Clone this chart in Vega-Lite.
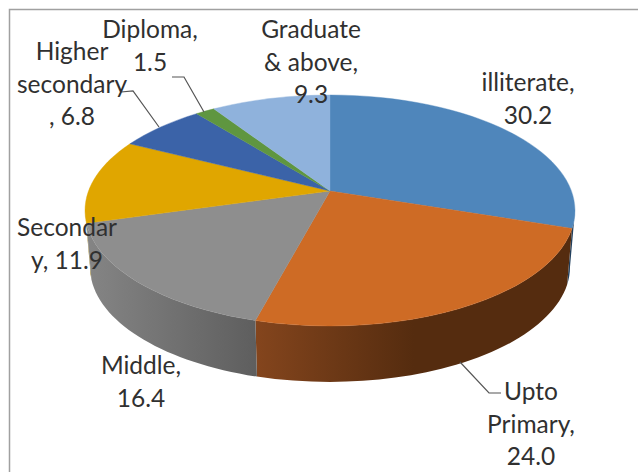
{
"$schema":"https://vega.github.io/schema/vega-lite/v6.json",
"width":638,"height":472,"padding":0,
"autosize":{"type":"fit","contains":"padding"},
"background":"white",
"config":{"view":{"stroke":null}},
"data":{"values":[
{"category":"illiterate","value":30.2,"label":"illiterate,\n30.2"},
{"category":"Upto Primary","value":24.0,"label":"Upto\nPrimary,\n24.0"},
{"category":"Middle","value":16.4,"label":"Middle,\n16.4"},
{"category":"Secondary","value":11.9,"label":"Secondar\ny, 11.9"},
{"category":"Higher secondary","value":6.8,"label":"Higher\nsecondary\n, 6.8"},
{"category":"Diploma","value":1.5,"label":"Diploma,\n1.5"},
{"category":"Graduate & above","value":9.3,"label":"Graduate\n& above,\n9.3"}
]},
"transform":[
{"joinaggregate":[{"op":"sum","field":"value","as":"total"}]},
{"window":[{"op":"sum","field":"value","as":"cum"}],"frame":[null,0],"ignorePeers":true},
{"calculate":"2*atan2(0.84*sin(PI*(datum.cum-datum.value)/datum.total),cos(PI*(datum.cum-datum.value)/datum.total))","as":"p0"},
{"calculate":"2*atan2(0.84*sin(PI*datum.cum/datum.total),cos(PI*datum.cum/datum.total))","as":"p1"},
{"calculate":"'M330,191L'+(330+245*sin(datum.p0))+','+(210.5-115.5*cos(datum.p0))+'A245,115.5,0,0,1,'+(330+245*sin(datum.p1))+','+(210.5-115.5*cos(datum.p1))+'Z'","as":"topPath"},
{"calculate":"max(datum.p0,PI/2)","as":"a"},
{"calculate":"min(datum.p1,3*PI/2)","as":"b"},
{"calculate":"'M'+(330+245*sin(datum.a))+','+(210.5-115.5*cos(datum.a))+'A245,115.5,0,0,1,'+(330+245*sin(datum.b))+','+(210.5-115.5*cos(datum.b))+'L'+(330+240*sin(datum.b))+','+(267-115*cos(datum.b))+'A240,115,0,0,0,'+(330+240*sin(datum.a))+','+(267-115*cos(datum.a))+'Z'","as":"wallPath"}
],
"layer":[
{"transform":[{"filter":"datum.category==='illiterate'"}],
 "mark":{"type":"point","filled":true,"opacity":1,"size":4,"fill":"#22405e","stroke":null},
 "encoding":{"x":{"value":0},"y":{"value":0},"shape":{"field":"wallPath","type":"nominal","scale":null,"legend":null}}},
{"transform":[{"filter":"datum.category==='Secondary'"}],
 "mark":{"type":"point","filled":true,"opacity":1,"size":4,"fill":"#8a6a00","stroke":null},
 "encoding":{"x":{"value":0},"y":{"value":0},"shape":{"field":"wallPath","type":"nominal","scale":null,"legend":null}}},
{"transform":[{"filter":"datum.category==='Upto Primary'"}],
 "mark":{"type":"point","filled":true,"opacity":1,"size":4,"stroke":null,
  "fill":{"gradient":"linear","x1":0,"y1":0,"x2":1,"y2":0,"stops":[{"offset":0,"color":"#84451d"},{"offset":0.5,"color":"#552c0f"},{"offset":1,"color":"#552c0f"}]}},
 "encoding":{"x":{"value":0},"y":{"value":0},"shape":{"field":"wallPath","type":"nominal","scale":null,"legend":null}}},
{"transform":[{"filter":"datum.category==='Middle'"}],
 "mark":{"type":"point","filled":true,"opacity":1,"size":4,"stroke":null,
  "fill":{"gradient":"linear","x1":0,"y1":0,"x2":1,"y2":0,"stops":[{"offset":0,"color":"#858585"},{"offset":1,"color":"#5e5e5e"}]}},
 "encoding":{"x":{"value":0},"y":{"value":0},"shape":{"field":"wallPath","type":"nominal","scale":null,"legend":null}}},
{"mark":{"type":"point","filled":true,"opacity":1,"size":4,"strokeWidth":0.4},
 "encoding":{"x":{"value":0},"y":{"value":0},
  "shape":{"field":"topPath","type":"nominal","scale":null,"legend":null},
  "fill":{"field":"category","type":"nominal","legend":null,"scale":{"domain":["illiterate","Upto Primary","Middle","Secondary","Higher secondary","Diploma","Graduate & above"],"range":["#4f86bb","#ce6b25","#8e8e8e","#e0a600","#3b63a8","#5f9640","#8fb2dc"]}},
  "stroke":{"field":"category","type":"nominal","legend":null,"scale":{"domain":["illiterate","Upto Primary","Middle","Secondary","Higher secondary","Diploma","Graduate & above"],"range":["#4f86bb","#ce6b25","#8e8e8e","#e0a600","#3b63a8","#5f9640","#8fb2dc"]}}
 }},
{"transform":[{"filter":"datum.category==='Higher secondary'"}],
 "mark":{"type":"point","filled":false,"opacity":1,"size":4,"stroke":"#555555","strokeWidth":1.2,"shape":"M121,92L133,91L159,127"},"encoding":{"x":{"value":0},"y":{"value":0}}},
{"transform":[{"filter":"datum.category==='Diploma'"}],
 "mark":{"type":"point","filled":false,"opacity":1,"size":4,"stroke":"#555555","strokeWidth":1.2,"shape":"M172,77L184,77L204,112"},"encoding":{"x":{"value":0},"y":{"value":0}}},
{"transform":[{"filter":"datum.category==='Upto Primary'"}],
 "mark":{"type":"point","filled":false,"opacity":1,"size":4,"stroke":"#555555","strokeWidth":1.2,"shape":"M501,393L489,393L460,362"},"encoding":{"x":{"value":0},"y":{"value":0}}},
{"transform":[{"filter":"datum.category==='illiterate'"}],
 "mark":{"type":"point","filled":false,"opacity":1,"size":4,"stroke":"#a0a0a0","strokeWidth":1.5,"shape":"M638,9.5L9.5,9.5L9.5,472"},"encoding":{"x":{"value":0},"y":{"value":0}}},
{"transform":[{"filter":"datum.category==='illiterate'"}],"mark":{"type":"text","font":"Lato","fontSize":24.5,"lineHeight":32.5,"lineBreak":"\n","align":"center","baseline":"alphabetic","fill":"#303030"},"encoding":{"x":{"value":528},"y":{"value":91},"text":{"field":"label"}}},
{"transform":[{"filter":"datum.category==='Upto Primary'"}],"mark":{"type":"text","font":"Lato","fontSize":24.5,"lineHeight":32.5,"lineBreak":"\n","align":"center","baseline":"alphabetic","fill":"#303030"},"encoding":{"x":{"value":531},"y":{"value":400},"text":{"field":"label"}}},
{"transform":[{"filter":"datum.category==='Middle'"}],"mark":{"type":"text","font":"Lato","fontSize":24.5,"lineHeight":32.5,"lineBreak":"\n","align":"center","baseline":"alphabetic","fill":"#303030"},"encoding":{"x":{"value":141},"y":{"value":374},"text":{"field":"label"}}},
{"transform":[{"filter":"datum.category==='Secondary'"}],"mark":{"type":"text","font":"Lato","fontSize":24.5,"lineHeight":32.5,"lineBreak":"\n","align":"center","baseline":"alphabetic","fill":"#303030"},"encoding":{"x":{"value":67},"y":{"value":236},"text":{"field":"label"}}},
{"transform":[{"filter":"datum.category==='Higher secondary'"}],"mark":{"type":"text","font":"Lato","fontSize":24.5,"lineHeight":32.5,"lineBreak":"\n","align":"center","baseline":"alphabetic","fill":"#303030"},"encoding":{"x":{"value":72},"y":{"value":60},"text":{"field":"label"}}},
{"transform":[{"filter":"datum.category==='Diploma'"}],"mark":{"type":"text","font":"Lato","fontSize":24.5,"lineHeight":32.5,"lineBreak":"\n","align":"center","baseline":"alphabetic","fill":"#303030"},"encoding":{"x":{"value":150},"y":{"value":38},"text":{"field":"label"}}},
{"transform":[{"filter":"datum.category==='Graduate & above'"}],"mark":{"type":"text","font":"Lato","fontSize":24.5,"lineHeight":32.5,"lineBreak":"\n","align":"center","baseline":"alphabetic","fill":"#303030"},"encoding":{"x":{"value":311},"y":{"value":38},"text":{"field":"label"}}}
]
}
